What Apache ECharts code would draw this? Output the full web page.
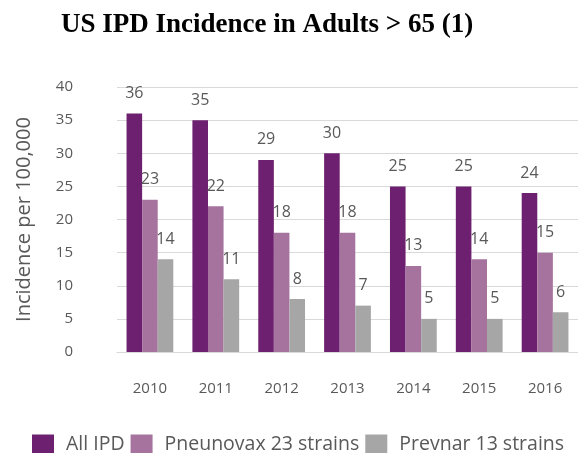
<!DOCTYPE html>
<html>
<head>
<meta charset="utf-8">
<script src="https://cdn.jsdelivr.net/npm/echarts@6/dist/echarts.min.js"></script>
<style>
  html, body { margin: 0; padding: 0; background: #ffffff; }
  #chart { width: 578px; height: 453px; }
</style>
</head>
<body>
<div id="chart"></div>
<script>
// Invasive pneumococcal disease incidence, adults over 65 (per 100,000)
const years = ['2010', '2011', '2012', '2013', '2014', '2015', '2016'];
const allIPD = [36, 35, 29, 30, 25, 25, 24];
const pneunovax23 = [23, 22, 18, 18, 13, 14, 15];
const prevnar13 = [14, 11, 8, 7, 5, 5, 6];
const yTicks = [0, 5, 10, 15, 20, 25, 30, 35, 40];

const textColor = '#595959';
const font = 'Open Sans';

function barSeries(name, values, color) {
  return {
    name: name,
    type: 'bar',
    data: values,
    barGap: '0%',
    barCategoryGap: '29%',
    itemStyle: { color: color },
    label: {
      show: true,
      position: 'top',
      distance: 12,
      color: textColor,
      fontFamily: font,
      fontSize: 16
    }
  };
}

const chart = echarts.init(document.getElementById('chart'), null, { renderer: 'canvas' });
chart.setOption({
  animation: false,
  title: {
    text: 'US IPD Incidence in Adults > 65 (1)',
    left: 56,
    top: 7,
    textStyle: {
      fontFamily: 'Liberation Serif',
      fontWeight: 'bold',
      fontSize: 27,
      color: '#000000'
    }
  },
  grid: { left: 117, top: 87, width: 467, height: 265 },
  xAxis: {
    type: 'category',
    data: years,
    axisTick: { show: false },
    axisLine: { lineStyle: { color: '#d9d9d9' } },
    axisLabel: { color: textColor, fontFamily: font, fontSize: 15, margin: 29 }
  },
  yAxis: {
    type: 'value',
    min: yTicks[0],
    max: yTicks[yTicks.length - 1],
    interval: yTicks[1] - yTicks[0],
    name: 'Incidence per 100,000',
    nameLocation: 'middle',
    nameGap: 83,
    nameTextStyle: { color: textColor, fontFamily: font, fontSize: 20 },
    axisLine: { show: false },
    axisTick: { show: false },
    axisLabel: { color: textColor, fontFamily: font, fontSize: 15, margin: 44 },
    splitLine: { lineStyle: { color: '#d9d9d9' } }
  },
  legend: {
    left: 27,
    top: 429,
    itemWidth: 22,
    itemHeight: 19,
    itemGap: 6,
    icon: 'rect',
    textStyle: { color: textColor, fontFamily: font, fontSize: 19.5, padding: [0, 0, 0, 7] },
    data: ['All IPD', 'Pneunovax 23 strains', 'Prevnar 13 strains']
  },
  series: [
    barSeries('All IPD', allIPD, '#6E2070'),
    barSeries('Pneunovax 23 strains', pneunovax23, '#A5739E'),
    barSeries('Prevnar 13 strains', prevnar13, '#A6A6A6')
  ]
});
</script>
</body>
</html>
